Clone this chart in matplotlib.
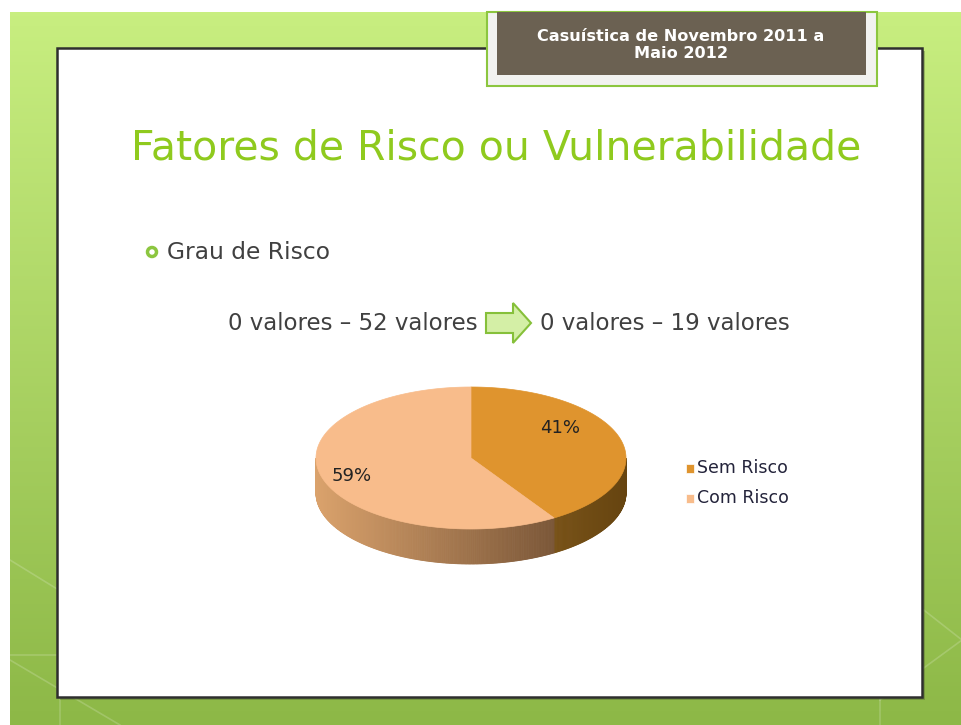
import numpy as np
import matplotlib.pyplot as plt
from matplotlib.patches import Rectangle, Polygon, Circle
from matplotlib.colors import to_rgb

# chart data
labels = ["Sem Risco", "Com Risco"]
shares = [41, 59]
top_colors = ["#df942e", "#f8bc8b"]
side_left = ["#b48030", "#daa26c"]
side_right = ["#664410", "#5e4028"]

# slide texts
header = "Casuística de Novembro 2011 a\nMaio 2012"
title = "Fatores de Risco ou Vulnerabilidade"
bullet = "Grau de Risco"
range_before = "0 valores – 52 valores"
range_after = "0 valores – 19 valores"

W, H = 962, 725
fig = plt.figure(figsize=(W / 100, H / 100), dpi=100)
ax = fig.add_axes([0, 0, 1, 1])
ax.set_xlim(0, W)
ax.set_ylim(H, 0)
ax.axis("off")

# green slide background with vertical gradient
top_g = np.array(to_rgb("#c8ee80"))
bot_g = np.array(to_rgb("#8db847"))
t = np.linspace(0, 1, 200)[:, None, None]
grad = top_g * (1 - t) + bot_g * t
grad = np.repeat(grad, 2, axis=1)
ax.imshow(grad, extent=[10, W, H, 12], aspect="auto", zorder=0)

# faint decorative lines on the green
for x0, y0, x1, y1 in [(10, 560, 140, 640), (10, 660, 120, 725), (860, 560, 962, 640),
                       (880, 700, 962, 640), (10, 655, 57, 655), (60, 697, 60, 725),
                       (880, 610, 880, 725)]:
    ax.plot([x0, x1], [y0, y1], color="white", alpha=0.18, lw=1.2, zorder=1)

# white content box with dark border and small shadow
ax.add_patch(Rectangle((60, 51), 865, 649, facecolor="#4a5a30", alpha=0.35, zorder=2))
ax.add_patch(Rectangle((57, 48), 865, 649, facecolor="white", edgecolor="#2e2e2e",
                       lw=1.8, zorder=3))

# header box
ax.add_patch(Rectangle((487, 12), 390, 74, facecolor="#f2f2f0", edgecolor="#8cc63f",
                       lw=1.5, zorder=4))
ax.add_patch(Rectangle((497, 12), 369, 63, facecolor="#6b6152", zorder=5))
ax.text(681, 45, header, ha="center", va="center", fontsize=11.6, fontweight="bold",
        color="white", linespacing=1.15, zorder=6)

# title
ax.text(496, 148, title, ha="center", va="center", fontsize=29.5, color="#8fca1e", zorder=6)

# bullet line
ax.add_patch(Circle((152, 252), 4.5, facecolor="none", edgecolor="#8cc63f", lw=2.5, zorder=6))
ax.text(167, 252, bullet, ha="left", va="center", fontsize=16.8, color="#404040", zorder=6)

# ranges with arrow
ax.text(478, 323, range_before, ha="right", va="center", fontsize=16.5, color="#404040", zorder=6)
ax.text(540, 323, range_after, ha="left", va="center", fontsize=16.5, color="#404040", zorder=6)
arrow = [(486, 313), (513, 313), (513, 303), (531, 323), (513, 343), (513, 333), (486, 333)]
ax.add_patch(Polygon(arrow, closed=True, facecolor="#d4efa6", edgecolor="#86c03a",
                     lw=1.5, zorder=6))

# 3D pie
cx, cy, a, b, depth = 471, 458, 155, 71, 35
fr = np.array(shares, dtype=float) / sum(shares)
edges = np.concatenate([[0], np.cumsum(fr)]) * 360


def pt(deg, dy=0.0):
    r = np.radians(deg)
    return cx + a * np.sin(r), cy - b * np.cos(r) + dy


# side walls (visible front half: 90..270 degrees)
for i in range(len(shares)):
    lo, hi = max(edges[i], 90), min(edges[i + 1], 270)
    if hi <= lo:
        continue
    c0, c1 = np.array(to_rgb(side_left[i])), np.array(to_rgb(side_right[i]))
    angs = np.linspace(lo, hi, int((hi - lo) * 2) + 2)
    for k in range(len(angs) - 1):
        x0, y0 = pt(angs[k])
        x1, y1 = pt(angs[k + 1])
        tx = ((x0 + x1) / 2 - (cx - a)) / (2 * a)
        col = c0 * (1 - tx) + c1 * tx
        quad = [(x0, y0), (x1, y1), (x1, y1 + depth), (x0, y0 + depth)]
        ax.add_patch(Polygon(quad, closed=True, facecolor=col, edgecolor=col, lw=0.6, zorder=7))

# top faces
for i in range(len(shares)):
    angs = np.linspace(edges[i], edges[i + 1], 200)
    pts = [(cx, cy)] + [pt(d) for d in angs]
    ax.add_patch(Polygon(pts, closed=True, facecolor=top_colors[i], edgecolor=top_colors[i],
                         lw=0.5, zorder=8))

# percentage labels
label_pos = [(560, 428), (352, 476)]
for (lx, ly), s in zip(label_pos, shares):
    ax.text(lx, ly, f"{s}%", ha="center", va="center", fontsize=13, color="#222222", zorder=9)

# legend
for i, lab in enumerate(labels):
    ly = 468 + 30 * i
    ax.add_patch(Rectangle((686, ly - 4.5), 8, 9, facecolor=top_colors[i], edgecolor="white",
                           lw=0.5, zorder=9))
    ax.text(697, ly, lab, ha="left", va="center", fontsize=12.5, color="#23233a", zorder=9)

fig.savefig("out.png", dpi=100)
